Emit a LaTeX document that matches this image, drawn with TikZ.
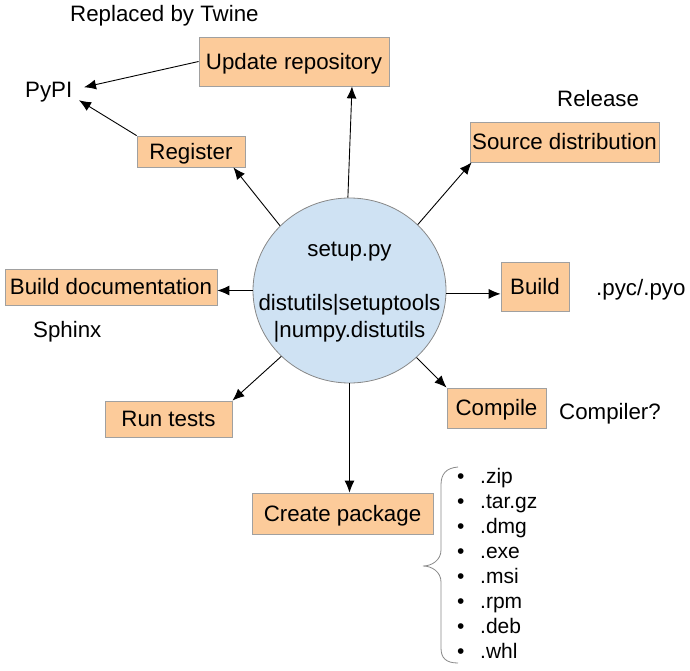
\documentclass[tikz,border=0pt]{standalone}
\usepackage{fontspec}
\setmainfont{Liberation Sans}
\usetikzlibrary{arrows.meta,shapes.geometric}
\definecolor{boxfill}{HTML}{FCCB9A}
\definecolor{boxline}{HTML}{A0A0A0}
\definecolor{circfill}{HTML}{CFE2F3}
\definecolor{circline}{HTML}{888888}
\begin{document}
\begin{tikzpicture}[x=1pt,y=-1pt,
  font=\fontsize{22.3pt}{26pt}\selectfont,
  box/.style={draw=boxline, fill=boxfill, line width=0.8pt, inner sep=0pt,
              text height=15.8pt, text depth=0pt},
  conn/.style={draw, line width=0.9pt, -{Latex[length=12pt,width=10pt]}},
  txt/.style={inner sep=0pt, anchor=base west},
  ctxt/.style={inner sep=0pt, anchor=base},
  itm/.style={inner sep=0pt, anchor=base west, font=\fontsize{21pt}{25pt}\selectfont}]
\useasboundingbox (0,0) rectangle (690,671);

% central ellipse
\node[ellipse, draw=circline, fill=circfill, line width=0.8pt, minimum width=193pt,
      minimum height=185pt, inner sep=0pt] (c) at (349.5,290.5) {};
\node[ctxt] (c1) at (349.5,256) {setup.py};
\node[ctxt] (c2) at (349.5,310) {distutils|setuptools};
\node[ctxt] (c3) at (349.5,337) {|numpy.distutils};

% boxes
\node[box, minimum width=190pt, minimum height=49pt] (upd) at (294,61.5) {Update repository};
\node[box, minimum width=108pt, minimum height=31pt] (reg) at (191,151.5) {Register};
\node[box, minimum width=189pt, minimum height=40pt] (src) at (564.5,142) {Source distribution};
\node[box, minimum width=212pt, minimum height=36pt] (bd) at (111,287) {Build documentation};
\node[box, minimum width=68pt, minimum height=49pt] (bld) at (535,286.5) {Build};
\node[box, minimum width=99pt, minimum height=40pt] (cmp) at (496.5,408) {Compile};
\node[box, minimum width=127pt, minimum height=36pt] (rt) at (168.5,419) {Run tests};
\node[box, minimum width=181pt, minimum height=41pt] (cp) at (342.5,513.5) {Create package};

% free texts
\node[txt] (twine) at (70,22) {Replaced by Twine};
\node[txt] (pypi) at (25,98) {PyPI};
\node[txt] (rel) at (557,107) {Release};
\node[txt] (pyc) at (596,295) {.pyc/.pyo};
\node[txt] (cmpq) at (559,419) {Compiler?};
\node[txt] (sph) at (33,337) {Sphinx};

% list
\foreach \t [count=\i] in {.zip,.tar.gz,.dmg,.exe,.msi,.rpm,.deb,.whl}{
  \node[itm] (l\i) at (457,483+25*\i-25) {\makebox[23pt][l]{•}\t};
}

% brace
\draw[circline, line width=0.8pt] (458,467) .. controls (446,468) and (441,474) .. (441,485)
  -- (441,550) .. controls (441,560) and (432,566) .. (423,566)
  .. controls (432,566) and (441,572) .. (441,582)
  -- (441,648) .. controls (441,658) and (446,663) .. (458,663);

% connectors
\draw[conn] (c.91) -- ([xshift=58pt]upd.south);
\draw[conn] (c.137) -- ([xshift=-12pt]reg.south east);
\draw[conn] (c.44) -- ([xshift=2pt]src.south west);
\draw[conn] (c.west) -- (c.west -| bd.east);
\draw[conn] (c.358) -- (c.358 -| bld.west);
\draw[conn] (c.315) -- (cmp.north west);
\draw[conn] (c.224) -- (rt.north east);
\draw[conn] (c.south) -- (c.south |- cp.north);
\draw[conn] (upd.west) -- ([xshift=11.5pt,yshift=5.4pt]pypi.east);
\draw[conn] (reg.north west) -- ([xshift=6.5pt,yshift=-7.6pt]pypi.east);
\end{tikzpicture}
\end{document}
